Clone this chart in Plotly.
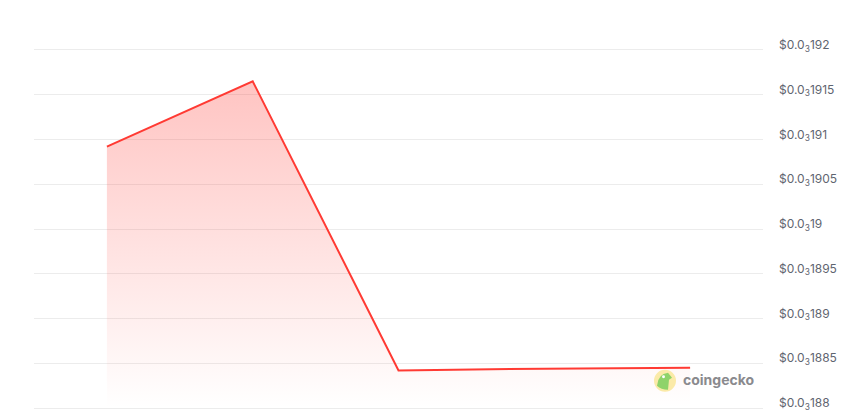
import plotly.graph_objects as go

# Data
x_idx = [0, 1, 2, 3, 4]
prices = [0.00019092, 0.00019165, 0.00018842, 0.00018844, 0.00018845]
tick_vals = [0.000188, 0.0001885, 0.000189, 0.0001895, 0.00019, 0.0001905, 0.000191, 0.0001915, 0.000192]
tick_text = ["$0.0<sub>3</sub>188", "$0.0<sub>3</sub>1885", "$0.0<sub>3</sub>189", "$0.0<sub>3</sub>1895",
             "$0.0<sub>3</sub>19", "$0.0<sub>3</sub>1905", "$0.0<sub>3</sub>191", "$0.0<sub>3</sub>1915",
             "$0.0<sub>3</sub>192"]
base_min, base_max = 0.000188, 0.000192

W, H = 860, 417
GRID_TOP, GRID_BOT = 49.5, 408.3   # pixel rows of 0.000192 and 0.000188
PAD = 3                              # extra pixels of range beyond outer gridlines
per_px = (base_max - base_min) / (GRID_BOT - GRID_TOP)
y_min, y_max = base_min - PAD * per_px, base_max + PAD * per_px

L, R = 34, 97
T, B = GRID_TOP - PAD, H - GRID_BOT - PAD
PW, PH = W - L - R, H - T - B


def px(x):
    return (x - L) / PW


def py(y):
    return (H - B - y) / PH


fig = go.Figure()
fig.add_trace(go.Scatter(
    x=x_idx, y=prices, mode="lines",
    line=dict(color="#ff3a33", width=2),
    fill="tozeroy",
    fillgradient=dict(type="vertical", start=base_min, stop=max(prices),
                      colorscale=[[0, "rgba(255,58,51,0.0)"], [1, "rgba(255,58,51,0.30)"]]),
    hoverinfo="skip", showlegend=False,
))

fig.update_layout(
    width=W, height=H,
    margin=dict(l=L, r=R, t=T, b=B, autoexpand=False),
    paper_bgcolor="white", plot_bgcolor="white",
    font=dict(family="Inter, Roboto, sans-serif", size=12, color="#5f6570"),
    xaxis=dict(range=[-0.5, 4.5], visible=False, showgrid=False, zeroline=False),
    yaxis=dict(range=[y_min, y_max], side="right", tickvals=tick_vals, ticktext=tick_text,
               showgrid=True, gridcolor="#ececec", gridwidth=1, zeroline=False,
               showline=False, ticks="", ticklabelstandoff=15, automargin=False,
               ticklabelshift=-5, ticklabeloverflow="allow",
               tickfont=dict(size=12, color="#5f6570")),
    shapes=[
        dict(type="circle", xref="paper", yref="paper",
             x0=px(654), x1=px(676), y0=py(392), y1=py(370),
             fillcolor="#fbeaa8", line=dict(width=0), layer="above"),
        dict(type="path", xref="paper", yref="paper",
             path=(f"M {px(657)},{py(386)} Q {px(658)},{py(374)} {px(668)},{py(373)} "
                   f"L {px(672)},{py(378)} L {px(669)},{py(380)} L {px(668)},{py(390)} "
                   f"Q {px(661)},{py(390)} {px(657)},{py(386)} Z"),
             fillcolor="#8fd36a", line=dict(width=0), layer="above"),
        dict(type="circle", xref="paper", yref="paper",
             x0=px(662), x1=px(665), y0=py(378.5), y1=py(375.5),
             fillcolor="white", line=dict(width=0), layer="above"),
    ],
    annotations=[
        dict(text="<b>coingecko</b>", xref="paper", yref="paper",
             x=px(681), y=py(380), xanchor="left", yanchor="middle",
             showarrow=False, font=dict(size=14, color="#8a8a8e", family="Inter, Roboto, sans-serif")),
    ],
)

fig.write_html("out.html", config={"displayModeBar": False},
               post_script="document.body.style.margin='0';")
